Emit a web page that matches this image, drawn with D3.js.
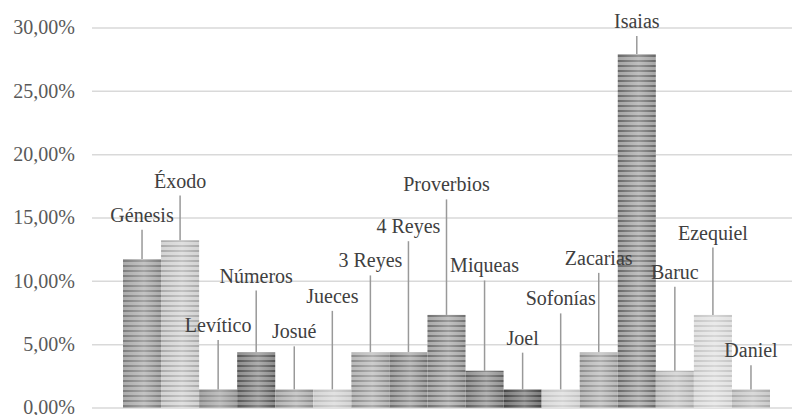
<!DOCTYPE html>
<html>
<head>
<meta charset="utf-8">
<script src="https://cdn.jsdelivr.net/npm/d3@7"></script>
<style>
  @font-face { font-family: "ChartSerif"; src: local("Liberation Serif"), local("LiberationSerif"), local("Liberation Serif Regular"); }
</style>
</head>
<body style="margin:0">
<div id="chart"></div>
<script>
// libros y porcentaje de citas
var books = ["Génesis", "Éxodo", "Levítico", "Números", "Josué", "Jueces", "3 Reyes", "4 Reyes",
             "Proverbios", "Miqueas", "Joel", "Sofonías", "Zacarias", "Isaias", "Baruc", "Ezequiel", "Daniel"];
var shares = [11.76, 13.24, 1.47, 4.41, 1.47, 1.47, 4.41, 4.41,
              7.35, 2.94, 1.47, 1.47, 4.41, 27.94, 2.94, 7.35, 1.47];
// height (in %) where each callout label sits
var labelLevels = [14.7, 17.4, 6.0, 9.9, 5.5, 8.3, 11.1, 13.8,
                   17.1, 10.7, 5.0, 8.1, 11.3, 30.0, 10.2, 13.3, 4.0];
var yTicks = [0, 5, 10, 15, 20, 25, 30];

// base / stripe greys for each bar
var barTones = [
  ["#ababab", "#7c7c7c"], ["#d3d3d3", "#a9a9a9"], ["#a6a6a6", "#848484"], ["#8c8c8c", "#555555"],
  ["#b4b4b4", "#8a8a8a"], ["#d6d6d6", "#bcbcbc"], ["#b8b8b8", "#8a8a8a"], ["#a2a2a2", "#6e6e6e"],
  ["#a8a8a8", "#707070"], ["#939393", "#5e5e5e"], ["#7a7a7a", "#444444"], ["#dadada", "#c2c2c2"],
  ["#b8b8b8", "#8c8c8c"], ["#a4a4a4", "#686868"], ["#cbcbcb", "#a8a8a8"], ["#e2e2e2", "#c6c6c6"],
  ["#cbcbcb", "#aaaaaa"]
];

var width = 792,
    height = 415;
var serif = "'Liberation Serif', ChartSerif, 'Times New Roman', serif";

var svg = d3.select("#chart")
  .append("svg")
    .attr("width", width)
    .attr("height", height)
    .style("font-family", serif, "important")
    .style("font-size", "20px");

var x = d3.scaleBand()
  .domain(books)
  .range([123, 770])
  .padding(0);

var y = d3.scaleLinear()
  .domain([0, 30])
  .range([408, 28]);

var defs = svg.append("defs");

// horizontal stripes for each bar
barTones.forEach(function(tone, i) {
  var p = defs.append("pattern")
    .attr("id", "stripes" + i)
    .attr("patternUnits", "userSpaceOnUse")
    .attr("width", 8)
    .attr("height", 5);
  p.append("rect").attr("width", 8).attr("height", 5).attr("fill", tone[0]);
  p.append("rect").attr("width", 8).attr("height", 2).attr("fill", tone[1]);
});

// soft highlight in the middle of each bar
var shine = defs.append("linearGradient")
  .attr("id", "shine")
  .attr("x1", "0%").attr("x2", "100%");
shine.append("stop").attr("offset", "0%").attr("stop-color", "#fff").attr("stop-opacity", 0);
shine.append("stop").attr("offset", "55%").attr("stop-color", "#fff").attr("stop-opacity", 0.3);
shine.append("stop").attr("offset", "100%").attr("stop-color", "#fff").attr("stop-opacity", 0);

// grid
svg.append("g")
  .attr("class", "grid")
  .selectAll("line")
  .data(yTicks)
  .enter()
    .append("line")
    .attr("x1", 92)
    .attr("x2", width)
    .attr("y1", function(d) { return y(d); })
    .attr("y2", function(d) { return y(d); })
    .attr("stroke", "#d9d9d9")
    .attr("stroke-width", 1.5);

// y axis labels
var tickFormat = function(d) { return d.toFixed(2).replace(".", ",") + "%"; };
svg.append("g")
  .attr("class", "y-axis")
  .selectAll("text")
  .data(yTicks)
  .enter()
    .append("text")
    .attr("x", 75)
    .attr("y", function(d) { return y(d); })
    .attr("dy", "0.32em")
    .attr("text-anchor", "end")
    .attr("fill", "#595959")
    .style("font-family", serif, "important")
    .text(tickFormat);

// bars
var bars = svg.append("g").attr("class", "bars");

bars.selectAll("rect.bar")
  .data(books)
  .enter()
    .append("rect")
    .attr("class", "bar")
    .attr("x", function(d) { return x(d); })
    .attr("width", x.bandwidth())
    .attr("y", function(d, i) { return y(shares[i]); })
    .attr("height", function(d, i) { return y(0) - y(shares[i]); })
    .attr("fill", function(d, i) { return "url(#stripes" + i + ")"; });

bars.selectAll("rect.shine")
  .data(books)
  .enter()
    .append("rect")
    .attr("class", "shine")
    .attr("x", function(d) { return x(d); })
    .attr("width", x.bandwidth())
    .attr("y", function(d, i) { return y(shares[i]); })
    .attr("height", function(d, i) { return y(0) - y(shares[i]); })
    .attr("fill", "url(#shine)");

// callouts
var callouts = svg.append("g").attr("class", "callouts");

callouts.selectAll("line")
  .data(books)
  .enter()
    .append("line")
    .attr("x1", function(d) { return x(d) + x.bandwidth() / 2; })
    .attr("x2", function(d) { return x(d) + x.bandwidth() / 2; })
    .attr("y1", function(d, i) { return y(labelLevels[i]) + 8; })
    .attr("y2", function(d, i) { return y(shares[i]); })
    .attr("stroke", "#999")
    .attr("stroke-width", 1.5);

callouts.selectAll("text")
  .data(books)
  .enter()
    .append("text")
    .attr("x", function(d) { return x(d) + x.bandwidth() / 2; })
    .attr("y", function(d, i) { return y(labelLevels[i]); })
    .attr("text-anchor", "middle")
    .attr("fill", "#404040")
    .style("font-family", serif, "important")
    .text(function(d) { return d; });
</script>
</body>
</html>
